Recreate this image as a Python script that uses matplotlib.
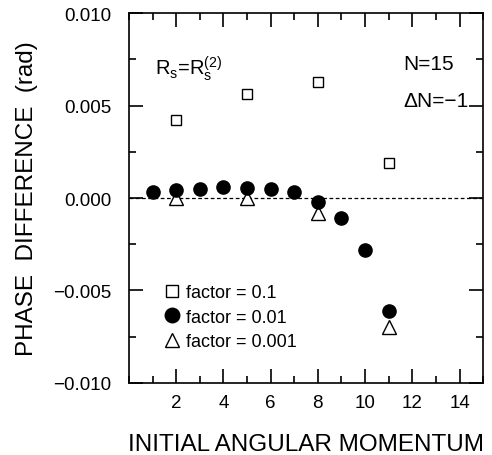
import matplotlib
matplotlib.use("Agg")
import matplotlib.pyplot as plt
from matplotlib.ticker import MultipleLocator, FixedLocator

plt.rcParams['font.family'] = ['Liberation Sans', 'DejaVu Sans']

x_sq = [2, 5, 8, 11]
y_sq = [0.0042, 0.0056, 0.0063, 0.0019]
x_ci = [1, 2, 3, 4, 5, 6, 7, 8, 9, 10, 11]
y_ci = [0.0003, 0.00045, 0.0005, 0.0006, 0.00055, 0.0005, 0.0003, -0.0002, -0.0011, -0.0028, -0.0061]
x_tr = [2, 5, 8, 11]
y_tr = [0.0, 0.0, -0.0008, -0.0070]
labels = ['factor = 0.1', 'factor = 0.01', 'factor = 0.001']
xticks = [2, 4, 6, 8, 10, 12, 14]
yticks = [-0.010, -0.005, 0.0, 0.005, 0.010]
yticklabels = ['\u22120.010', '\u22120.005', '0.000', '0.005', '0.010']

fig = plt.figure(figsize=(4.92, 4.56), dpi=100)
ax = fig.add_axes([0.262, 0.158, 0.72, 0.811])

ax.axhline(0, color='black', lw=0.9, ls=(0, (3, 2)), zorder=1)
ax.plot(x_sq, y_sq, 's', ms=7.5, mfc='white', mec='black', mew=1.0, label=labels[0], zorder=3)
ax.plot(x_ci, y_ci, 'o', ms=9.5, mfc='black', mec='black', label=labels[1], zorder=3)
ax.plot(x_tr, y_tr, '^', ms=9.5, mfc='white', mec='black', mew=1.0, label=labels[2], zorder=2)

ax.set_xlim(0, 15)
ax.set_ylim(-0.010, 0.010)
ax.xaxis.set_major_locator(FixedLocator(xticks))
ax.xaxis.set_minor_locator(MultipleLocator(1))
ax.set_yticks(yticks)
ax.set_yticklabels(yticklabels)
ax.yaxis.set_minor_locator(MultipleLocator(0.0025))
ax.tick_params(which='both', direction='in', top=True, right=True, labelsize=13.5)
ax.tick_params(axis='x', pad=8)
ax.tick_params(axis='y', pad=12.5)
ax.tick_params(which='major', length=10, width=1.2)
ax.tick_params(which='minor', length=5, width=1.2)
for s in ax.spines.values():
    s.set_linewidth(1.2)

ax.set_xlabel('INITIAL ANGULAR MOMENTUM', fontsize=17.5, labelpad=16)
ax.set_ylabel('PHASE  DIFFERENCE  (rad)', fontsize=17.5, labelpad=11)

ax.text(0.073, 0.835, r'R$_\mathregular{s}$=R$_\mathregular{s}^\mathregular{(2)}$', transform=ax.transAxes, fontsize=14.5)
ax.text(0.775, 0.849, 'N=15', transform=ax.transAxes, fontsize=15)
ax.text(0.775, 0.749, '\u0394N=\u22121', transform=ax.transAxes, fontsize=15)

leg = ax.legend(loc='center left', bbox_to_anchor=(0.102, 0.178), frameon=False, fontsize=13,
                handletextpad=0.35, labelspacing=0.4, handlelength=0.8, borderpad=0, borderaxespad=0,
                markerscale=1.1)

fig.savefig('out.png', dpi=100)
